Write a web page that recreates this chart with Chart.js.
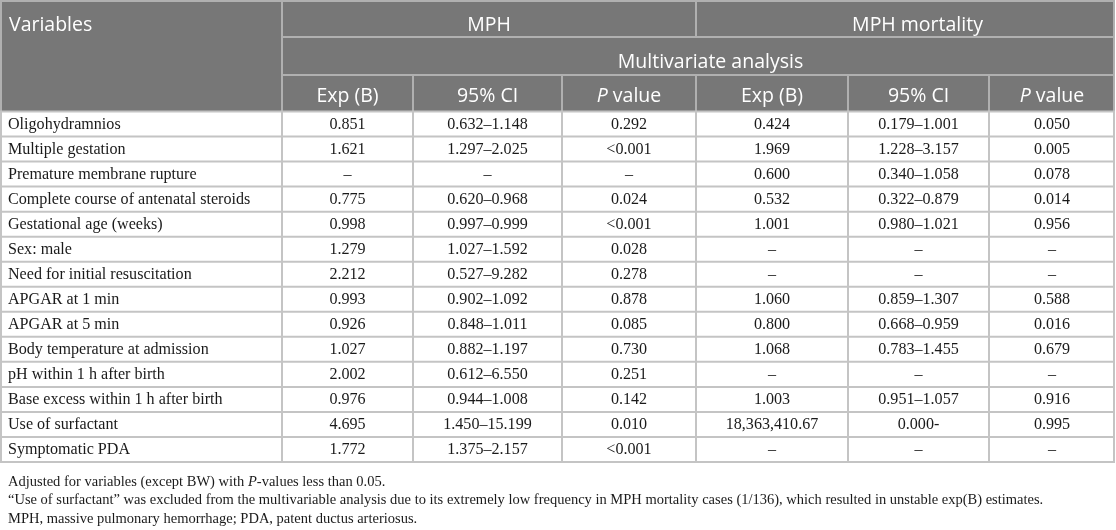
<!DOCTYPE html>
<html><head><meta charset="utf-8">
<script src="https://cdn.jsdelivr.net/npm/chart.js@4.4.1/dist/chart.umd.min.js"></script>
<style>html,body{margin:0;padding:0;background:#fff}#wrap{width:1116px;height:530px;position:relative}</style>
</head><body><div id="wrap"><canvas id="c"></canvas></div>
<script>
// ---- data ----
const variables = ["Oligohydramnios","Multiple gestation","Premature membrane rupture","Complete course of antenatal steroids","Gestational age (weeks)","Sex: male","Need for initial resuscitation","APGAR at 1 min","APGAR at 5 min","Body temperature at admission","pH within 1 h after birth","Base excess within 1 h after birth","Use of surfactant","Symptomatic PDA"];
const mphExp = ["0.851","1.621","–","0.775","0.998","1.279","2.212","0.993","0.926","1.027","2.002","0.976","4.695","1.772"];
const mphCI = ["0.632–1.148","1.297–2.025","–","0.620–0.968","0.997–0.999","1.027–1.592","0.527–9.282","0.902–1.092","0.848–1.011","0.882–1.197","0.612–6.550","0.944–1.008","1.450–15.199","1.375–2.157"];
const mphP = ["0.292","<0.001","–","0.024","<0.001","0.028","0.278","0.878","0.085","0.730","0.251","0.142","0.010","<0.001"];
const mortExp = ["0.424","1.969","0.600","0.532","1.001","–","–","1.060","0.800","1.068","–","1.003","18,363,410.67","–"];
const mortCI = ["0.179–1.001","1.228–3.157","0.340–1.058","0.322–0.879","0.980–1.021","–","–","0.859–1.307","0.668–0.959","0.783–1.455","–","0.951–1.057","0.000-","–"];
const mortP = ["0.050","0.005","0.078","0.014","0.956","–","–","0.588","0.016","0.679","–","0.916","0.995","–"];
const headerTop = ["Variables","MPH","MPH mortality"];
const headerMid = ["Multivariate analysis"];
const subHeaders = ["Exp (B)","95% CI","P value","Exp (B)","95% CI","P value"];
const footnotes = [
  "Adjusted for variables (except BW) with P-values less than 0.05.",
  "\u201CUse of surfactant\u201D was excluded from the multivariable analysis due to its extremely low frequency in MPH mortality cases (1/136), which resulted in unstable exp(B) estimates.",
  "MPH, massive pulmonary hemorrhage; PDA, patent ductus arteriosus."
];

// ---- layout (pixel units of the hidden linear scales) ----
const L = {
  cols: [0, 282, 413, 562, 696, 848, 989, 1115],
  hRows: [0, 37, 75, 111.5],
  headTextY: [25, 62, 96.5],
  mergedShift: 12,
  bodyBottom: 462,
  noteY: [482, 500.5, 519],
  headFont: '19.5px "Open Sans"',
  headItal: 'italic 19.5px "Open Sans"',
  bodyFont: '16.1px "Liberation Serif"',
  noteFont: '14.5px "Liberation Serif"',
  noteItal: 'italic 14.5px "Liberation Serif"',
  headBg: '#777777', headLine: '#b0b0b0', bodyLine: '#c4c4c4',
  headText: '#ffffff', bodyText: '#1a1a1a'
};

function drawMixed(ctx, parts, x, y, align) {
  let w = 0;
  parts.forEach(p => { ctx.font = p[1]; w += ctx.measureText(p[0]).width; });
  let sx = align === 'center' ? x - w / 2 : x;
  ctx.textAlign = 'left';
  parts.forEach(p => { ctx.font = p[1]; ctx.fillText(p[0], sx, y); sx += ctx.measureText(p[0]).width; });
}
function splitP(text, normal, ital) {
  if (text.startsWith('P value')) return [['P', ital], [text.slice(1), normal]];
  if (text.includes('P-values')) {
    const k = text.indexOf('P-values');
    return [[text.slice(0, k), normal], ['P', ital], [text.slice(k + 1), normal]];
  }
  return [[text, normal]];
}

const tablePlugin = {
  id: 'table',
  afterDraw(chart) {
    const ctx = chart.ctx, sx = chart.scales.x, sy = chart.scales.y;
    const X = v => sx.getPixelForValue(v), Y = v => sy.getPixelForValue(v);
    const c = L.cols, h = L.hRows;
    const n = variables.length;
    const rowH = (L.bodyBottom - h[3]) / n;
    ctx.save();
    ctx.fillStyle = L.headBg;
    ctx.fillRect(X(c[0]), Y(h[0]), X(c[7]) - X(c[0]), Y(h[3]) - Y(h[0]));
    const line = (x1, y1, x2, y2) => { ctx.beginPath(); ctx.moveTo(X(x1), Y(y1)); ctx.lineTo(X(x2), Y(y2)); ctx.stroke(); };
    ctx.strokeStyle = L.headLine; ctx.lineWidth = 2;
    line(c[0], h[0] + 1, c[7], h[0] + 1);
    line(c[0] + 1, h[0], c[0] + 1, h[3]);
    line(c[7] - 1, h[0], c[7] - 1, h[3]);
    line(c[1], h[1], c[7], h[1]);
    line(c[1], h[2], c[7], h[2]);
    line(c[1], h[0], c[1], h[3]);
    line(c[4], h[0], c[4], h[1]);
    for (let k = 2; k <= 6; k++) line(c[k], h[2], c[k], h[3]);
    ctx.strokeStyle = L.bodyLine; ctx.lineWidth = 2;
    for (let r = 0; r <= n; r++) line(c[0], h[3] + r * rowH, c[7], h[3] + r * rowH);
    line(c[0] + 1, h[3], c[0] + 1, L.bodyBottom);
    line(c[7] - 1, h[3], c[7] - 1, L.bodyBottom);
    for (let k = 1; k <= 6; k++) line(c[k], h[3], c[k], L.bodyBottom);
    // header text
    ctx.fillStyle = L.headText; ctx.textBaseline = 'middle';
    ctx.font = L.headFont; ctx.textAlign = 'left';
    ctx.fillText(headerTop[0], X(9), Y(L.headTextY[0]));
    ctx.textAlign = 'center';
    ctx.fillText(headerTop[1], X((c[1] + c[4]) / 2), Y(L.headTextY[0]));
    ctx.fillText(headerTop[2], X((c[4] + c[7]) / 2 + L.mergedShift), Y(L.headTextY[0]));
    ctx.fillText(headerMid[0], X((c[1] + c[7]) / 2 + L.mergedShift), Y(L.headTextY[1]));
    subHeaders.forEach((t, k) => {
      drawMixed(ctx, splitP(t, L.headFont, L.headItal), X((c[k + 1] + c[k + 2]) / 2), Y(L.headTextY[2]), 'center');
    });
    // body text
    ctx.fillStyle = L.bodyText;
    const cols = [mphExp, mphCI, mphP, mortExp, mortCI, mortP];
    for (let r = 0; r < n; r++) {
      const yc = Y(h[3] + (r + 0.5) * rowH + 0.5);
      ctx.font = L.bodyFont;
      ctx.textAlign = 'left';
      ctx.fillText(variables[r], X(8), yc);
      ctx.textAlign = 'center';
      cols.forEach((arr, k) => ctx.fillText(arr[r], X((c[k + 1] + c[k + 2]) / 2), yc));
    }
    footnotes.forEach((t, i) => drawMixed(ctx, splitP(t, L.noteFont, L.noteItal), X(8), Y(L.noteY[i]), 'left'));
    ctx.restore();
  }
};

new Chart(document.getElementById('c'), {
  type: 'scatter',
  data: { datasets: [{ data: [], showLine: false }] },
  options: {
    responsive: true, maintainAspectRatio: false, animation: false,
    layout: { padding: 0 },
    plugins: { legend: { display: false }, tooltip: { enabled: false } },
    scales: {
      x: { type: 'linear', min: 0, max: 1116, display: false },
      y: { type: 'linear', min: 0, max: 530, reverse: true, display: false }
    }
  },
  plugins: [tablePlugin]
});
</script></body></html>
